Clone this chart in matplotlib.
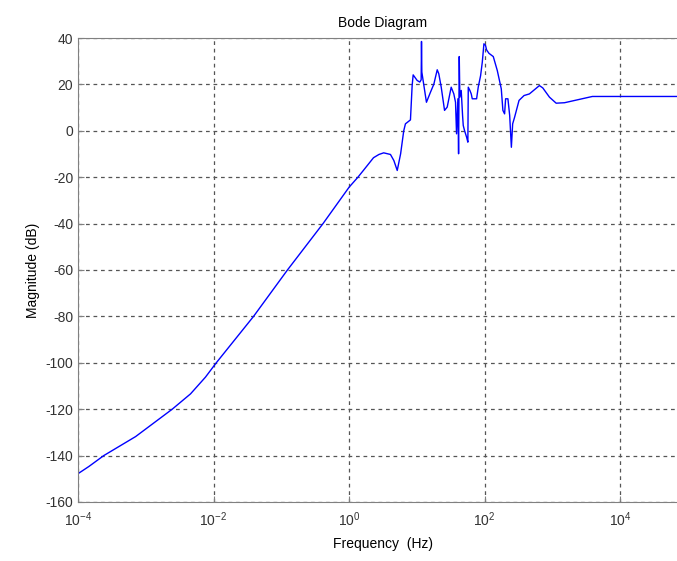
import numpy as np
import matplotlib
matplotlib.use("Agg")
import matplotlib.pyplot as plt

plt.rcParams['font.family'] = ['Liberation Sans', 'DejaVu Sans']
plt.rcParams['mathtext.fontset'] = 'custom'
plt.rcParams['mathtext.rm'] = 'Liberation Sans'
plt.rcParams['axes.unicode_minus'] = False

# log10 of frequency (Hz)
log_freq = [-4.0, -3.84, -3.62, -3.15, -2.61, -2.34, -2.12, -1.96, -1.41, -0.91,
            -0.385, 0.0, 0.13, 0.21,
            0.36, 0.44, 0.51, 0.61, 0.66, 0.71, 0.76,
            0.806, 0.831, 0.905, 0.93, 0.945, 1.004, 1.043, 1.063, 1.068, 1.073,
            1.141, 1.2, 1.25, 1.3, 1.323, 1.359, 1.408, 1.447, 1.506, 1.545,
            1.57, 1.585, 1.605, 1.615, 1.625, 1.634, 1.654, 1.674, 1.684, 1.703,
            1.733, 1.752, 1.758, 1.782, 1.802, 1.817, 1.881, 1.905, 1.94, 1.965,
            1.989, 2.013, 2.028, 2.063, 2.127, 2.186, 2.245, 2.269, 2.294, 2.309,
            2.343, 2.369, 2.394, 2.413, 2.442, 2.507, 2.581, 2.66, 2.808, 2.857,
            2.956, 3.055, 3.178, 3.376, 3.589, 4.0, 5.0]
# magnitude in dB
mag_db = [-147.8, -144.7, -140.0, -131.8, -120.0, -113.4, -106.2, -100.0, -80.0, -60.0,
          -40.0, -24.3, -20.0, -17.1,
          -11.6, -10.2, -9.5, -10.2, -12.8, -17.1, -9.9,
          0.0, 3.0, 4.7, 19.5, 24.1, 21.7, 21.0, 22.0, 38.5, 25.3,
          12.3, 16.6, 20.1, 26.3, 24.6, 18.8, 8.8, 10.2, 18.8, 15.9,
          12.3, -1.3, 13.8, -9.9, 32.0, 14.5, 17.4, 6.6, 2.3, 0.1,
          -2.7, -4.9, 18.8, 17.4, 15.9, 13.8, 13.8, 18.8, 23.8, 29.6,
          37.5, 36.8, 34.9, 33.4, 32.0, 26.0, 18.1, 8.8, 7.3, 13.8,
          13.8, 6.6, -7.1, 3.0, 5.9, 13.1, 15.2, 15.9, 19.5, 18.5,
          14.5, 11.9, 12.1, 13.4, 14.8, 14.8, 14.8]

x_ticks = [1e-4, 1e-2, 1e0, 1e2, 1e4]
y_ticks = list(range(-160, 41, 20))

freq = 10 ** np.array(log_freq)

fig = plt.figure(figsize=(6.77, 5.61), dpi=100)
ax = fig.add_axes([78 / 677, 59 / 561, 610 / 677, 464 / 561])

ax.semilogx(freq, mag_db, color='#0000ff', lw=1.0)

ax.set_xlim(1e-4, 1e5)
ax.set_ylim(-160, 40)
ax.set_xticks(x_ticks)
ax.set_xticklabels([r'$\mathregular{10^{%d}}$' % int(np.log10(t)) for t in x_ticks])
ax.xaxis.set_minor_locator(matplotlib.ticker.NullLocator())
ax.set_yticks(y_ticks)

txt = '#333333'
ax.grid(True, which='major', linestyle=(0, (3, 3)), color='#555555', lw=0.9)
ax.tick_params(direction='in', length=4, colors='#808080', labelcolor=txt,
               labelsize=10, top=False, right=False)
ax.tick_params(axis='x', pad=6)
for s in ax.spines.values():
    s.set_color('#808080')

ax.set_title('Bode Diagram', fontsize=10, color='black', pad=8)
ax.set_xlabel('Frequency  (Hz)', fontsize=10, color='black', labelpad=6)
ax.set_ylabel('Magnitude (dB)', fontsize=10, color='black', labelpad=4)

fig.savefig('out.png', dpi=100)
